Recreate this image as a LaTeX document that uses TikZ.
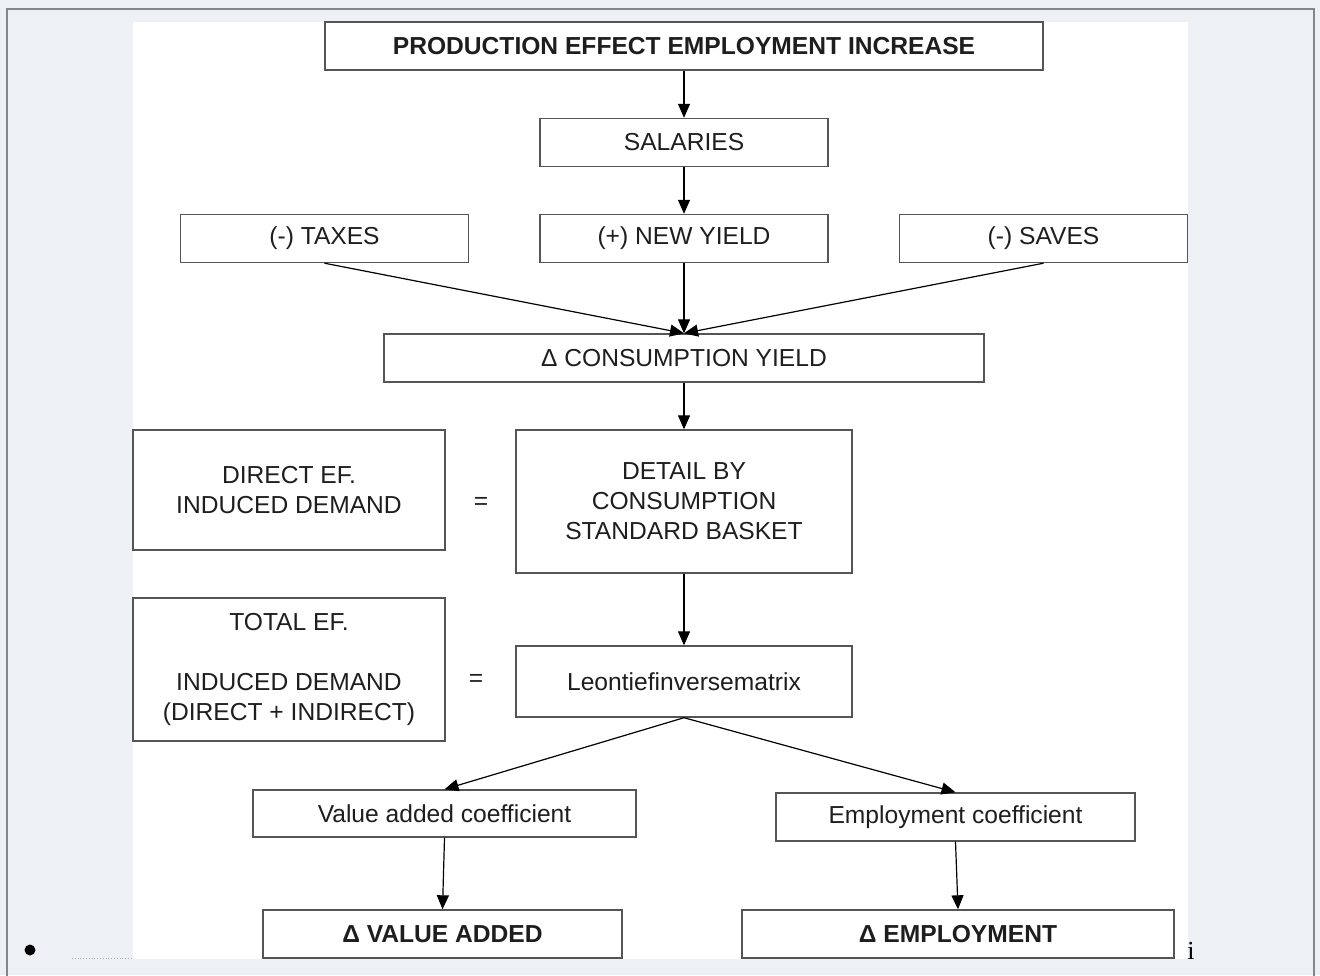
\documentclass[tikz,border=0pt]{standalone}
\usepackage{fontspec}
\setmainfont{Liberation Sans}
\newfontfamily\serifface{Liberation Serif}
\usetikzlibrary{arrows.meta, positioning}
\definecolor{pagebg}{HTML}{EDF1F5}
\definecolor{frameline}{HTML}{80878D}
\definecolor{boxline}{HTML}{555555}
\definecolor{inktext}{HTML}{1E1E1E}

\begin{document}
\begin{tikzpicture}[x=0.5pt, y=-0.5pt]
  \tikzset{box/.style={rectangle, draw=boxline, line width=0.7pt, fill=white,
                       inner sep=0pt, align=center, text=inktext,
                       font=\fontsize{12.3}{15}\selectfont}}
  \tikzset{boldbox/.style={box, font=\fontsize{12.3}{15}\selectfont\bfseries}}
  \tikzset{flow/.style={draw=black, line width=0.6pt, -{Triangle[length=7pt, width=6pt]}}}

  % Page background and frame
  \useasboundingbox (0,0) rectangle (1320,975);
  \fill[pagebg] (0,0) rectangle (1320,975);
  \draw[frameline, line width=1pt] (7,990) -- (7,9) -- (1314,9) -- (1314,990);
  \fill[white] (133,22) rectangle (1188,959);

  % Top chain
  \node[boldbox, minimum width=359pt, minimum height=24pt] (prod) at (684,46)
    {PRODUCTION EFFECT EMPLOYMENT INCREASE};
  \node[box, minimum width=144pt, minimum height=24pt] (sal) at (684,142.5) {SALARIES};
  % Income split row
  \foreach \name/\x/\txt in {tax/324.5/{(-) TAXES}, yield/684/{(+) NEW YIELD}, save/1043.5/{(-) SAVES}}{
    \node[box, minimum width=144pt, minimum height=24pt] (\name) at (\x,238.5) {\txt};
  }
  \node[box, minimum width=300pt, minimum height=24pt] (cons) at (684,358)
    {Δ CONSUMPTION YIELD};

  % Demand effects
  \node[box, minimum width=156pt, minimum height=60pt] (direct) at (289,490)
    {DIRECT EF.\\INDUCED DEMAND};
  \node[box, minimum width=168pt, minimum height=71.5pt] (detail) at (684,501.5)
    {DETAIL BY\\CONSUMPTION\\STANDARD BASKET};
  \node[text=inktext, font=\fontsize{12.3}{15}\selectfont] (eqa) at (481,503) {=};
  \node[box, minimum width=156pt, minimum height=71.5pt] (total) at (289,669.5)
    {TOTAL EF.\\[15pt]INDUCED DEMAND\\(DIRECT + INDIRECT)};
  \node[box, minimum width=168pt, minimum height=35.5pt] (leon) at (684,681.5)
    {Leontiefinversematrix};
  \node[text=inktext, font=\fontsize{12.3}{15}\selectfont] (eqb) at (476,680) {=};

  % Coefficients and results
  \node[box, minimum width=191.5pt, minimum height=23.5pt] (vacoef) at (444.5,813.5)
    {Value added coefficient};
  \node[box, minimum width=179.5pt, minimum height=24pt] (empcoef) at (955.5,817)
    {Employment coefficient};
  \node[boldbox, minimum width=179.5pt, minimum height=24pt] (vadd) at (442.5,934)
    {Δ VALUE ADDED};
  \node[boldbox, minimum width=216pt, minimum height=24pt] (emp) at (958,934)
    {Δ EMPLOYMENT};

  % Connectors
  \draw[flow] (prod) -- (sal);
  \draw[flow] (sal) -- (yield);
  \foreach \src in {tax, yield, save}{
    \draw[flow] (\src.south) -- (cons.north);
  }
  \draw[flow] (cons) -- (detail);
  \draw[flow] (detail) -- (leon);
  \draw[flow] (leon.south) -- (vacoef.north);
  \draw[flow] (leon.south) -- (empcoef.north);
  \draw[flow] (vacoef.south) -- (vadd.north);
  \draw[flow] (empcoef.south) -- (emp.north);

  % Page leftovers
  \fill[black] (30,950) circle[radius=5.5];
  \draw[gray!60, line width=0.4pt, densely dotted] (72,958) -- (132,958);
  \node[font=\serifface\fontsize{13}{15}\selectfont, anchor=base, inner sep=0pt] (mark) at (1191,959) {i};
\end{tikzpicture}
\end{document}
